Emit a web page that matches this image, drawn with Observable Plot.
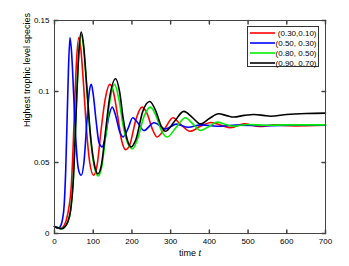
<!DOCTYPE html>
<html><head><meta charset="utf-8">
<script src="https://cdn.jsdelivr.net/npm/d3@7"></script>
<script src="https://cdn.jsdelivr.net/npm/@observablehq/plot@0.6"></script>
<style>body{margin:0;background:#fff;}</style>
</head><body><div id="chart"></div>
<script>
const seriesNames = ["(0.30,0.10)", "(0.50, 0.30)", "(0.80, 0.50)", "(0.90, 0.70)"];
const seriesColors = ["#ff0000", "#0000ff", "#00ee00", "#000000"];

const redPts = [[0,0.005],[8,0.004],[15,0.0035],[22,0.0045],[30,0.009],[37,0.018],[43,0.032],[48,0.06],[52,0.09],[57,0.122],[63,0.138],[68,0.13],[75,0.105],[83,0.072],[91,0.05],[101,0.041],[110,0.048],[120,0.072],[130,0.093],[143,0.105],[152,0.1],[163,0.083],[173,0.066],[184,0.059],[195,0.063],[210,0.08],[226,0.089],[240,0.084],[252,0.074],[265,0.068],[285,0.074],[306,0.0815],[325,0.077],[350,0.072],[377,0.0755],[404,0.0782],[430,0.0762],[455,0.0745],[490,0.0772],[530,0.0753],[570,0.0765],[620,0.0758],[700,0.0762]];
const bluePts = [[0,0.005],[8,0.0037],[14,0.0045],[20,0.009],[25,0.02],[29,0.045],[33,0.085],[36,0.115],[40,0.138],[44,0.128],[50,0.095],[56,0.062],[62,0.045],[69,0.041],[76,0.05],[84,0.08],[90,0.1],[95,0.105],[100,0.098],[108,0.078],[115,0.064],[123,0.061],[130,0.066],[140,0.082],[149,0.089],[158,0.083],[168,0.072],[177,0.068],[190,0.074],[202,0.0815],[215,0.078],[231,0.0725],[257,0.078],[287,0.0737],[315,0.077],[345,0.0748],[380,0.0765],[420,0.0755],[470,0.0763],[550,0.076],[620,0.0762],[700,0.0762]];
const greenPts = [[0,0.005],[8,0.0042],[18,0.0033],[26,0.0045],[34,0.008],[42,0.017],[48,0.035],[53,0.065],[58,0.1],[63,0.127],[69,0.14],[75,0.131],[83,0.103],[92,0.07],[102,0.048],[113,0.0405],[122,0.047],[132,0.068],[143,0.093],[155,0.105],[166,0.095],[178,0.075],[190,0.063],[202,0.0597],[215,0.067],[232,0.083],[248,0.089],[262,0.083],[277,0.072],[291,0.068],[315,0.075],[338,0.0815],[358,0.077],[377,0.0725],[400,0.0755],[420,0.0784],[440,0.077],[463,0.0756],[500,0.0768],[540,0.0762],[600,0.0765],[700,0.0765]];
const blackPts = [[0,0.005],[8,0.0042],[18,0.0033],[26,0.0045],[34,0.008],[42,0.017],[48,0.035],[53,0.065],[58,0.1],[63,0.128],[69,0.1418],[75,0.133],[83,0.105],[92,0.072],[102,0.05],[112,0.042],[121,0.048],[131,0.07],[142,0.095],[158,0.109],[168,0.1],[178,0.08],[188,0.066],[198,0.061],[210,0.066],[228,0.086],[246,0.093],[262,0.086],[275,0.076],[287,0.072],[310,0.079],[334,0.086],[355,0.082],[377,0.0772],[400,0.081],[424,0.0843],[445,0.083],[463,0.082],[490,0.0832],[515,0.0838],[540,0.0832],[558,0.0826],[600,0.0838],[650,0.0845],[700,0.0848]];

const xTicks = [0,100,200,300,400,500,600,700];
const yTicks = [0,0.05,0.1,0.15];
const yTickLabels = ["0","0.05","0.1","0.15"];
const xLabel = "time t";
const yLabel = "Highest trophic level species";

const allSeries = [redPts, bluePts, greenPts, blackPts];
const rows = allSeries.flatMap((pts, i) => pts.map(([t, v]) => ({t, v, s: seriesNames[i]})));

const tickShape = {draw(ctx, l) { ctx.moveTo(0, 0); ctx.lineTo(0, -l); }};
const axisColor = "#444";

const plot = Plot.plot({
  width: 349, height: 266,
  marginLeft: 54, marginRight: 24, marginTop: 20, marginBottom: 33,
  style: {fontFamily: "'Liberation Sans', Arial, Helvetica, sans-serif", fontSize: "8px", background: "white", color: "#000", overflow: "visible"},
  x: {domain: [0, 700], label: null},
  y: {domain: [0, 0.15], label: null},
  color: {domain: seriesNames, range: seriesColors},
  marks: [
    Plot.axisX(xTicks, {tickSize: 0, tickPadding: 5, label: null, fill: "#000"}),
    Plot.axisY(yTicks, {tickSize: 0, tickPadding: 5, label: null, fill: "#000", tickFormat: d => yTickLabels[yTicks.indexOf(d)]}),
    Plot.line(rows, {x: "t", y: "v", z: "s", stroke: "s", strokeWidth: 1.6, curve: "monotone-x"}),
    Plot.frame({stroke: axisColor, strokeWidth: 1}),
    Plot.vector(xTicks, {x: d => d, y: 0, length: 3.5, rotate: 0, anchor: "start", shape: tickShape, stroke: axisColor}),
    Plot.vector(xTicks, {x: d => d, y: 0.15, length: 3.5, rotate: 180, anchor: "start", shape: tickShape, stroke: axisColor}),
    Plot.vector(yTicks, {x: 0, y: d => d, length: 3.5, rotate: 90, anchor: "start", shape: tickShape, stroke: axisColor}),
    Plot.vector(yTicks, {x: 700, y: d => d, length: 3.5, rotate: -90, anchor: "start", shape: tickShape, stroke: axisColor}),
    Plot.text([yLabel], {text: d => d, frameAnchor: "left", dx: -27, rotate: -90, fontSize: 9, fill: "#000"}),
    Plot.text([xLabel], {text: d => d, frameAnchor: "bottom", dy: 22, fontSize: 9, fill: "#000"})
  ]
});

const svg = d3.select(plot);
svg.selectAll("text").filter(function() { return this.textContent === xLabel; }).each(function() {
  const t = d3.select(this);
  t.text("time ");
  t.append("tspan").attr("font-style", "italic").text("t");
});

// legend
const lg = svg.append("g").attr("font-size", 8).attr("font-family", "'Liberation Sans', Arial, sans-serif");
lg.append("rect").attr("x", 247.5).attr("y", 26.5).attr("width", 71).attr("height", 40)
  .attr("fill", "white").attr("stroke", "#333").attr("stroke-width", 1);
seriesNames.forEach((n, i) => {
  const y = 33 + i * 10;
  lg.append("line").attr("x1", 250).attr("x2", 275).attr("y1", y).attr("y2", y)
    .attr("stroke", seriesColors[i]).attr("stroke-width", 1.6);
  lg.append("text").attr("x", 316.5).attr("y", y).attr("dy", "0.35em").attr("text-anchor", "end")
    .attr("fill", "#000").text(n);
});

document.getElementById("chart").appendChild(plot);
</script>
</body></html>
